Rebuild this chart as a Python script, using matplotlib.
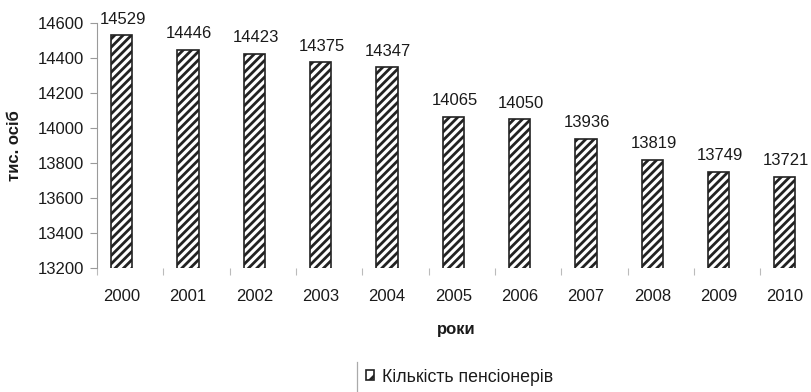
import numpy as np
import matplotlib.pyplot as plt
from matplotlib.patches import Rectangle
from matplotlib.lines import Line2D

years = ["2000", "2001", "2002", "2003", "2004", "2005",
         "2006", "2007", "2008", "2009", "2010"]
pensioners = [14529, 14446, 14423, 14375, 14347, 14065,
              14050, 13936, 13819, 13749, 13721]
y_ticks = [13200, 13400, 13600, 13800, 14000, 14200, 14400, 14600]

plt.rcParams["font.family"] = ["Liberation Sans", "DejaVu Sans"]
plt.rcParams["hatch.linewidth"] = 2.0
text_color = "#1a1a1a"
axis_color = "#9a9a9a"

fig = plt.figure(figsize=(8.11, 3.92), dpi=100)
ax = fig.add_axes([0.1196, 0.3163, 0.885, 0.625])

x = np.arange(len(years))
bars = ax.bar(x, pensioners, width=0.32, bottom=0,
              color="white", edgecolor="#222222", linewidth=1.2,
              hatch="////")

for xi, val in zip(x, pensioners):
    ax.text(xi + 0.02, val + 50, str(val), ha="center", va="bottom",
            fontsize=12, color=text_color)

ax.set_ylim(13200, 14600)
ax.set_xlim(-0.371, 10.45)
ax.set_yticks(y_ticks)
ax.tick_params(axis="y", labelsize=12, colors=axis_color, labelcolor=text_color,
               length=5, width=0.8, pad=4)

# year labels without tick marks, small marks between categories
ax.set_xticks(x)
ax.set_xticklabels(years)
ax.tick_params(axis="x", which="major", length=0, labelsize=12,
               labelcolor=text_color, pad=15)
ax.set_xticks(np.arange(-0.371, 10.5, 1.0), minor=True)
ax.tick_params(axis="x", which="minor", length=5, width=0.8,
               colors="#bbbbbb", direction="out")

for side in ["top", "right", "bottom"]:
    ax.spines[side].set_visible(False)
ax.spines["left"].set_color(axis_color)
ax.spines["left"].set_linewidth(0.8)

ax.set_xlabel("роки", fontsize=12, fontweight="bold", color=text_color,
              labelpad=13)
ax.set_ylabel("тис. осіб", fontsize=12, fontweight="bold", color=text_color,
              labelpad=6)
ax.yaxis.set_label_coords(-0.105, 0.5)

handle = Rectangle((0, 0), 1, 1, facecolor="white", edgecolor="#222222",
                   hatch="//", linewidth=1.2)
fig.legend([handle], ["Кількість пенсіонерів"], loc="center left",
           bbox_to_anchor=(0.431, 0.038), frameon=False, fontsize=12.8,
           handlelength=0.5, handleheight=0.5, handletextpad=0.4,
           labelcolor=text_color)
fig.add_artist(Line2D([0.440, 0.440], [0.0, 0.077], color="#aaaaaa",
                      linewidth=0.9, transform=fig.transFigure))

fig.savefig("out.png", dpi=100)
